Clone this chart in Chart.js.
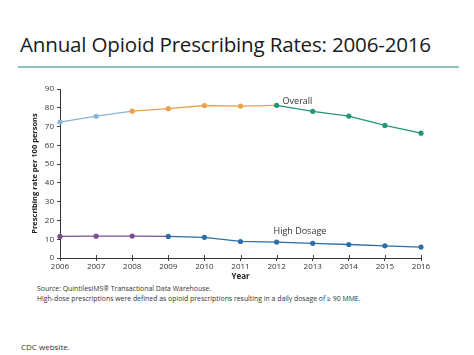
<!DOCTYPE html>
<html><head><meta charset="utf-8">
<script src="https://cdn.jsdelivr.net/npm/chart.js@4"></script>
<style>
html,body{margin:0;padding:0;background:#fff;width:474px;height:355px;overflow:hidden;font-family:"Open Sans",sans-serif;}
#title{position:absolute;left:20px;top:30px;font-size:20.6px;color:#1a1a1a;white-space:nowrap;letter-spacing:-0.2px;}
#rule{position:absolute;left:18px;top:66px;width:441px;height:2px;background:#8cc3be;}
#wrap{position:absolute;left:0;top:80px;width:474px;height:202px;}
.note{position:absolute;left:37px;font-size:6.9px;color:#333;white-space:nowrap;}
#cdc{position:absolute;left:21px;top:341px;font-size:8px;color:#333;}
</style></head><body>
<div id="title">Annual Opioid Prescribing Rates: 2006-2016</div>
<div id="rule"></div>
<div id="wrap"><canvas id="c" width="474" height="202"></canvas></div>
<div class="note" style="top:284px">Source: QuintilesIMS® Transactional Data Warehouse.</div>
<div class="note" style="top:294px">High-dose prescriptions were defined as opioid prescriptions resulting in a daily dosage of ≥ 90 MME.</div>
<div id="cdc">CDC website.</div>
<script>
const years = ["2006","2007","2008","2009","2010","2011","2012","2013","2014","2015","2016"];
const overall = [72.4, 75.5, 78.2, 79.5, 81.2, 80.9, 81.3, 78.1, 75.6, 70.6, 66.5];
const highDosage = [11.5, 11.6, 11.7, 11.5, 11.0, 8.8, 8.5, 7.8, 7.2, 6.5, 5.8];
const yTicks = [0,10,20,30,40,50,60,70,80,90];

const cLight = "#8ab4cf", cOrange = "#e9a14b", cTeal = "#23967a";
const cPurple = "#7d4e8e", cBlue = "#2b6fa6";

function ovColor(i){ return i < 2 ? cLight : (i < 6 ? cOrange : cTeal); }
function hiColor(i){ return i < 3 ? cPurple : cBlue; }

const labelPlugin = {
  id: 'seriesLabels',
  afterDatasetsDraw(chart){
    const {ctx, scales:{x,y}} = chart;
    ctx.save();
    ctx.fillStyle = "#333";
    ctx.font = "9px 'Open Sans', sans-serif";
    ctx.textBaseline = "bottom";
    ctx.textAlign = "left";
    ctx.fillText("Overall", x.getPixelForValue(6) + 6, y.getPixelForValue(overall[6]) + 1);
    ctx.fillText("High Dosage", x.getPixelForValue(5) + 33, y.getPixelForValue(highDosage[6]) - 6);
    // x tick marks crossing the axis line upward
    ctx.strokeStyle = "#444"; ctx.lineWidth = 1;
    years.forEach((v,i) => {
      const px = Math.round(x.getPixelForValue(i)) + 0.5;
      ctx.beginPath(); ctx.moveTo(px, y.bottom); ctx.lineTo(px, y.bottom - 3); ctx.stroke();
    });
    ctx.restore();
  }
};

new Chart(document.getElementById('c'), {
  type: 'line',
  data: {
    labels: years,
    datasets: [
      { data: overall, borderWidth: 1.3, pointRadius: 2.6, pointBorderWidth: 0,
        pointBackgroundColor: overall.map((v,i)=>ovColor(i)),
        borderColor: cTeal,
        segment: { borderColor: c => ovColor(c.p0DataIndex) } },
      { data: highDosage, borderWidth: 1.3, pointRadius: 2.6, pointBorderWidth: 0,
        pointBackgroundColor: highDosage.map((v,i)=>hiColor(i)),
        borderColor: cBlue,
        segment: { borderColor: c => hiColor(c.p0DataIndex) } }
    ]
  },
  options: {
    responsive: false, animation: false,
    layout: { padding: { left: 30, right: 53, top: 9, bottom: 0 } },
    plugins: { legend: { display: false }, tooltip: { enabled: false } },
    scales: {
      x: {
        offset: false,
        grid: { drawOnChartArea: false, tickLength: 3, color: "#444" },
        border: { color: "#333", width: 1 },
        ticks: { color: "#333", font: { size: 8, family: "'Open Sans', sans-serif" }, padding: 1, maxRotation: 0, autoSkip: false },
        title: { display: true, text: "Year", color: "#222", font: { size: 8, weight: "bold", family: "'Open Sans', sans-serif" }, padding: { top: -3, bottom: 0 } },
        afterFit(s){ s.height = 24; }
      },
      y: {
        min: 0, max: 90,
        afterBuildTicks(s){ s.ticks = yTicks.map(v => ({ value: v })); },
        grid: { drawOnChartArea: false, tickLength: 3, color: "#444" },
        border: { color: "#333", width: 1 },
        ticks: { color: "#333", font: { size: 8, family: "'Open Sans', sans-serif" }, padding: 3 },
        title: { display: true, text: "Prescribing rate per 100 persons", color: "#222", font: { size: 7.5, weight: "bold", family: "'Open Sans', sans-serif" }, padding: 0 },
        afterFit(s){ s.width = 30; }
      }
    }
  },
  plugins: [labelPlugin]
});
</script>
</body></html>
